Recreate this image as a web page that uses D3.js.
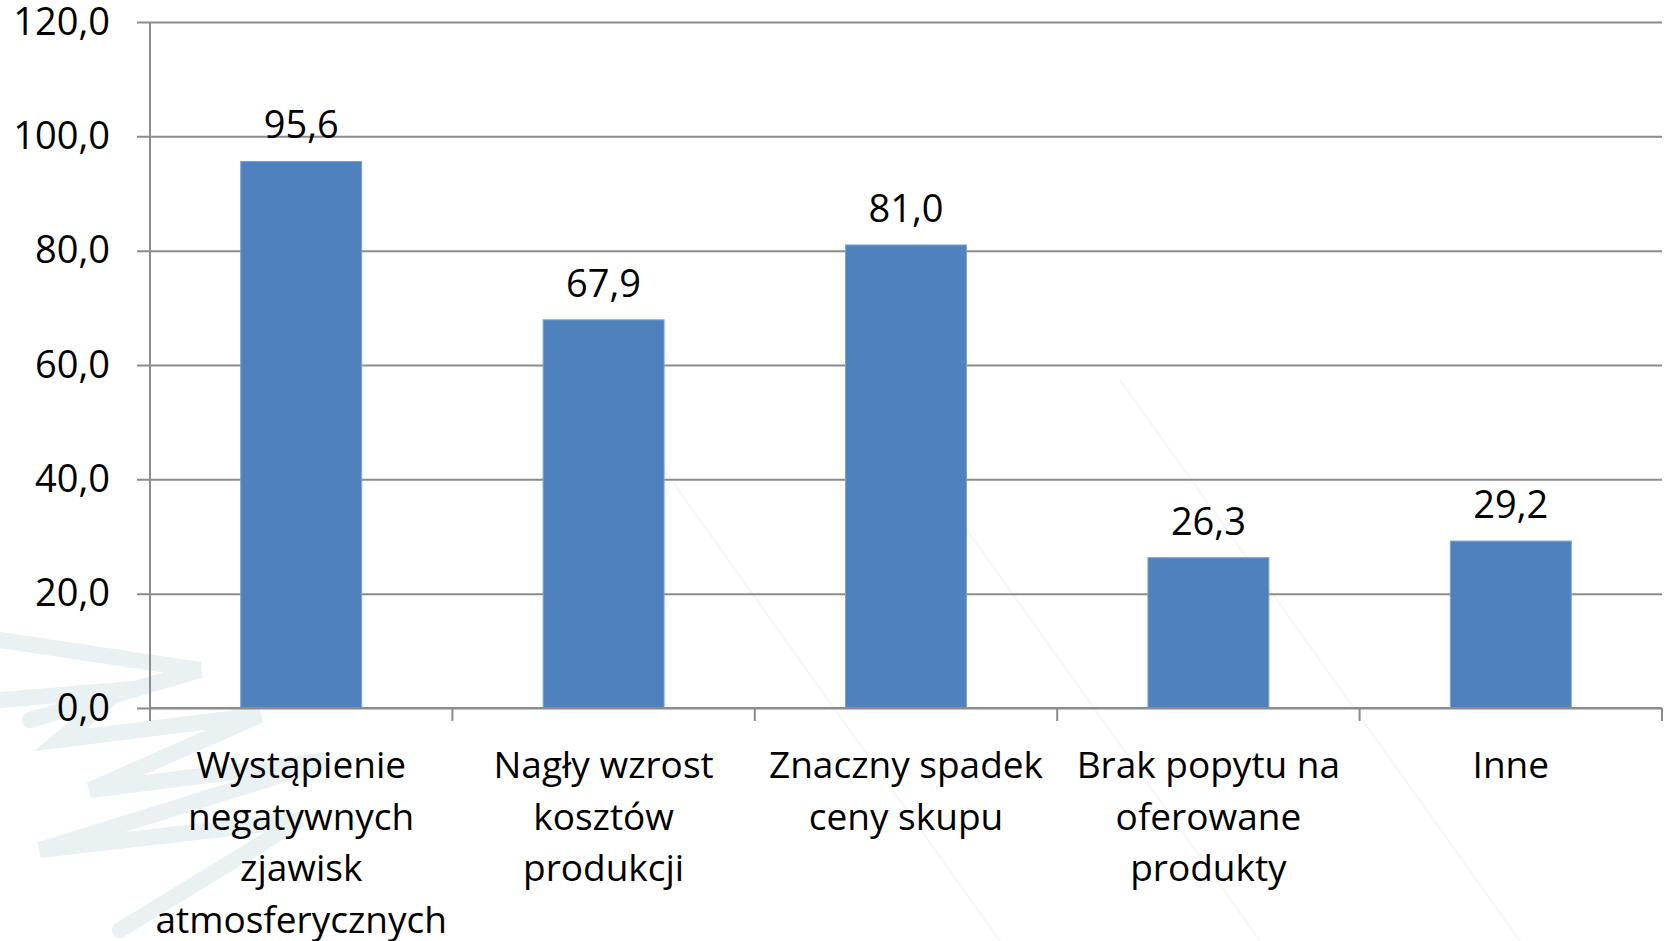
<!DOCTYPE html>
<html>
<head>
<meta charset="utf-8">
<title>Wykres</title>
<script src="https://cdn.jsdelivr.net/npm/d3@7/dist/d3.min.js"></script>
<style>
    body { margin: 0; background: #fff; }
    svg { display: block; font-family: "Open Sans", sans-serif; }
</style>
</head>
<body>
<svg width="1668" height="941"></svg>
<script>
    // dane
    const categories = [
        ['Wystąpienie', 'negatywnych', 'zjawisk', 'atmosferycznych'],
        ['Nagły wzrost', 'kosztów', 'produkcji'],
        ['Znaczny spadek', 'ceny skupu'],
        ['Brak popytu na', 'oferowane', 'produkty'],
        ['Inne']
    ];
    const values = [95.6, 67.9, 81.0, 26.3, 29.2];
    const yTicks = [0, 20, 40, 60, 80, 100, 120];

    const fmt = v => v.toFixed(1).replace('.', ',');

    const svg = d3.select('svg');
    const margin = {left: 150, right: 6, top: 22, bottom: 233};
    const width = 1668 - margin.left - margin.right;
    const height = 941 - margin.top - margin.bottom;

    // delikatny znak wodny w tle
    const wm = svg.append('g').attr('fill', 'none').attr('stroke', '#e9f1f3').attr('stroke-linecap', 'round');
    [[[0, 700], [120, 690], [60, 740], [260, 715], [90, 790], [330, 760], [40, 850], [300, 820], [120, 930]],
     [[0, 640], [200, 670], [30, 720]]].forEach(pts => {
        wm.append('path').attr('d', d3.line()(pts)).attr('stroke-width', 16);
    });
    svg.append('g').attr('stroke', '#f6f6f6').attr('stroke-width', 2)
        .selectAll('line').data([0, 1, 2]).join('line')
        .attr('x1', d => 600 + d * 260).attr('y1', 380)
        .attr('x2', d => 1000 + d * 260).attr('y2', 941);

    const g = svg.append('g').attr('transform', `translate(${margin.left},${margin.top})`);

    const x = d3.scaleBand().domain(d3.range(values.length)).range([0, width]).paddingInner(0.6).paddingOuter(0.3);
    const xb = d3.scaleBand().domain(d3.range(values.length)).range([0, width]);
    const y = d3.scaleLinear().domain([0, 120]).range([height, 0]);

    // siatka + oś Y
    const yAxis = g.append('g')
        .call(d3.axisLeft(y).tickValues(yTicks).tickFormat(fmt).tickSize(-width).tickPadding(40));
    yAxis.select('.domain').remove();
    yAxis.selectAll('.tick line').attr('x1', -13).attr('stroke', '#8c8c8c').attr('stroke-width', 2);
    yAxis.selectAll('.tick text').attr('font-size', 38).attr('fill', '#000')
        .attr('font-family', '"Open Sans", sans-serif');

    g.append('line').attr('x1', 0).attr('x2', 0).attr('y1', 0).attr('y2', height)
        .attr('stroke', '#8c8c8c').attr('stroke-width', 2);

    // słupki
    g.selectAll('.bar').data(values).join('rect')
        .attr('class', 'bar')
        .attr('x', (d, i) => x(i))
        .attr('width', x.bandwidth())
        .attr('y', d => y(d))
        .attr('height', d => height - y(d))
        .attr('fill', '#4f81bd')
        .attr('stroke', '#7fa3cf').attr('stroke-width', 1);

    g.selectAll('.val').data(values).join('text')
        .attr('class', 'val')
        .attr('x', (d, i) => x(i) + x.bandwidth() / 2)
        .attr('y', d => y(d) - 23)
        .attr('text-anchor', 'middle')
        .attr('font-size', 38)
        .text(fmt);

    // oś X
    const xAxis = g.append('g').attr('transform', `translate(0,${height})`);
    xAxis.append('line').attr('x1', 0).attr('x2', width).attr('stroke', '#8c8c8c').attr('stroke-width', 2);
    xAxis.selectAll('.xt').data(d3.range(values.length + 1)).join('line')
        .attr('class', 'xt')
        .attr('x1', i => i * xb.step()).attr('x2', i => i * xb.step())
        .attr('y1', 0).attr('y2', 13)
        .attr('stroke', '#8c8c8c').attr('stroke-width', 2);

    xAxis.selectAll('.cat').data(categories).join('text')
        .attr('class', 'cat')
        .attr('text-anchor', 'middle')
        .attr('font-size', 37)
        .attr('transform', (d, i) => `translate(${xb(i) + xb.bandwidth() / 2},70)`)
        .selectAll('tspan').data(d => d).join('tspan')
        .attr('x', 0)
        .attr('y', (d, i) => i * 51.5)
        .text(d => d);
</script>
</body>
</html>
